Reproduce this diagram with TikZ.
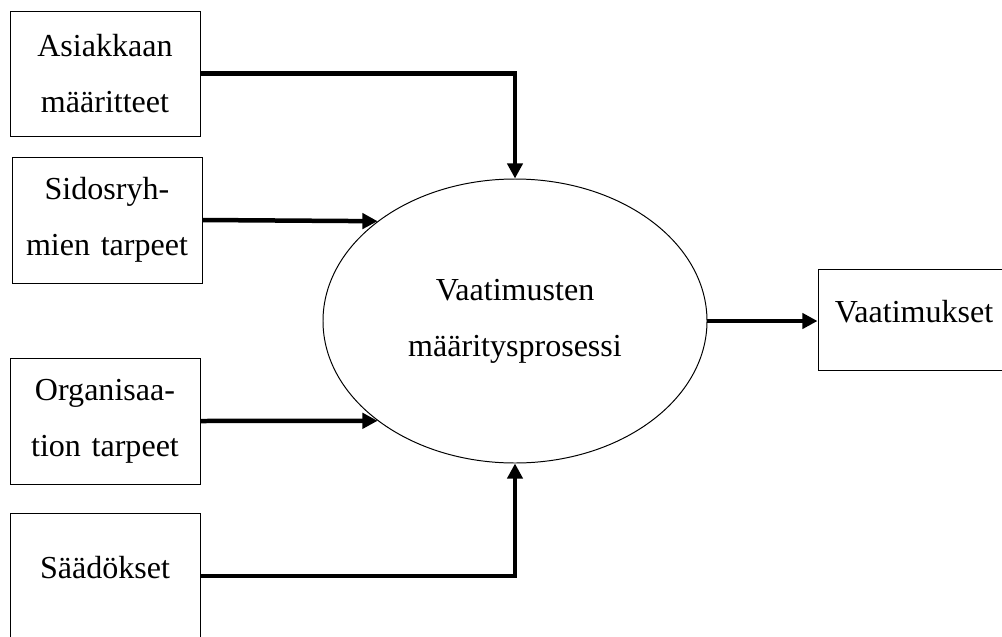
\documentclass[tikz,border=0pt]{standalone}
\usepackage{fontspec}
\setmainfont{Liberation Serif}
\usetikzlibrary{shapes.geometric, arrows.meta}
\tikzstyle{inputnode} = [rectangle, 
minimum width=4.75cm, 
minimum height=3.15cm,
text width=4.5cm,
text centered, 
draw=black, line width=0.7pt,
font=\fontsize{22.8}{40}\selectfont]
\tikzstyle{linenode} = [rectangle, 
inner sep=0pt,
text centered, 
draw=black, line width=0.7pt,
font=\fontsize{22.8}{40}\selectfont]
\tikzstyle{processnode} = [ellipse, 
minimum width=9.6cm, 
minimum height=7.1cm,
text width=6cm,
text centered, 
draw=black, line width=0.7pt,
font=\fontsize{22.8}{40}\selectfont]
\tikzstyle{arrow} = [line width=3.2pt,-{Triangle[length=0.38cm, width=0.38cm]}]

\begin{document}
\begin{tikzpicture}

\useasboundingbox (0,0) rectangle (25.05,-15.9);

\node (client) [inputnode, minimum height=3.125cm] at (2.625,-1.8375) {Asiakkaan\\määritteet};

\node (stake) [inputnode] at (2.675,-5.5) {Sidosryh-\\mien tarpeet};

\node (org) [inputnode] at (2.625,-10.525) {Organisaa-\\tion tarpeet};

\node (law) [linenode, anchor=base, minimum width=4.75cm, text height=1.625cm, text depth=1.525cm] at (2.625,-14.45) {Säädökset};

\node (proc) [processnode] at (12.875,-8.025) {Vaatimusten\\määritysprosessi};

\node (req) [linenode, anchor=base, minimum width=4.8cm, text height=1.325cm, text depth=1.2cm] at (22.85,-8.05) {Vaatimukset};


\draw [arrow] (client.east) -| (proc.north);

\draw [arrow] (stake.east) -- (proc.144);

\draw [arrow] (org.east) -- (proc.216);

\draw [arrow] (law.east) -| (proc.south);

\draw [arrow] (proc.east) -- (proc.east -| req.west);

\end{tikzpicture}
\end{document}
